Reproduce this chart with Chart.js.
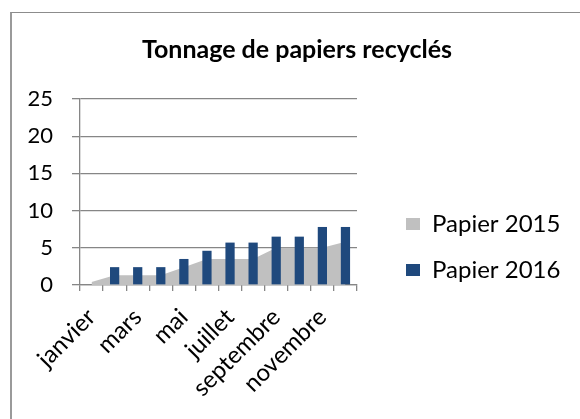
<!DOCTYPE html>
<html>
<head>
<meta charset="utf-8">
<script src="https://cdn.jsdelivr.net/npm/chart.js@4.4.1/dist/chart.umd.min.js"></script>
<style>
    html, body { margin: 0; padding: 0; background: #fff; overflow: hidden; }
    #frame {
        position: absolute; left: 10px; top: 12px; width: 620px; height: 460px;
        border-top: 1px solid #8c8c8c; border-left: 2px solid #9a9a9a;
    }
    #wrap { position: absolute; left: 0; top: 0; width: 580px; height: 419px; }
</style>
</head>
<body>
<div id="frame"></div>
<div id="wrap"><canvas id="myChart" width="580" height="419"></canvas></div>
<script>
// chart data
const months = ['janvier', 'février', 'mars', 'avril', 'mai', 'juin',
    'juillet', 'août', 'septembre', 'octobre', 'novembre', 'décembre'];
const papier2015 = [0.4, 1.3, 1.3, 1.3, 2.4, 3.5, 3.5, 3.5, 5, 5, 5, 5.8];
const papier2016 = [0, 2.4, 2.4, 2.4, 3.5, 4.6, 5.7, 5.7, 6.5, 6.5, 7.8, 7.8];
const yTicks = [0, 5, 10, 15, 20, 25];

const FONT = 'Lato, "Open Sans", sans-serif';
const GRID = '#868686';

// layout of the excel-like frame
const LEGEND_W = 223;     // room kept on the right of the plot
const LEGEND_LEFT = 384;  // legend boxes start at LEGEND_LEFT + padding
const LEGEND_TOP = 190;

// legend sits a bit away from the plot, like in the spreadsheet
const legendPlace = {
    id: 'legendPlace',
    beforeLayout(chart) {
        const lg = chart.legend;
        if (lg && !lg._fixed) {
            const fit = lg.fit;
            lg.fit = function () {
                fit.call(this);
                this.width = LEGEND_W;
            };
            lg._fixed = true;
        }
    },
    afterLayout(chart) {
        const lg = chart.legend;
        lg.left = LEGEND_LEFT;
        lg.right = LEGEND_LEFT + LEGEND_W;
        lg.top = LEGEND_TOP;
        lg.bottom = LEGEND_TOP + 120;
    }
};

const ctx = document.getElementById('myChart').getContext('2d');

new Chart(ctx, {
    type: 'bar',
    data: {
        labels: months,
        datasets: [{
            type: 'line',
            label: 'Papier 2015',
            data: papier2015,
            backgroundColor: '#c0c0c0',
            borderColor: '#c0c0c0',
            borderWidth: 0,
            pointRadius: 0,
            tension: 0,
            fill: 'origin',
            order: 2
        }, {
            label: 'Papier 2016',
            data: papier2016,
            backgroundColor: '#1f497d',
            borderWidth: 0,
            categoryPercentage: 0.8,
            barPercentage: 0.5,
            order: 1
        }]
    },
    plugins: [legendPlace],
    options: {
        responsive: false,
        animation: false,
        layout: { padding: { left: 14, right: 0, top: 0, bottom: 0 } },
        plugins: {
            tooltip: { enabled: false },
            title: {
                display: true,
                text: 'Tonnage de papiers recyclés',
                color: '#000',
                font: { family: FONT, size: 25, weight: 'bold' },
                padding: { top: 35, bottom: 34 }
            },
            legend: {
                position: 'right',
                align: 'start',
                labels: {
                    boxWidth: 14,
                    boxHeight: 12,
                    padding: 22,
                    color: '#000',
                    font: { family: FONT, size: 24 },
                    sort: (a, b) => a.datasetIndex - b.datasetIndex
                }
            }
        },
        scales: {
            x: {
                offset: true,
                afterFit: axis => {
                    axis.paddingLeft = 0;
                    axis.paddingRight = 0;
                    axis.height = 134;
                },
                grid: {
                    offset: true,
                    drawOnChartArea: false,
                    drawTicks: true,
                    tickLength: 6,
                    color: GRID,
                    lineWidth: 1.3
                },
                border: { display: true, color: GRID, width: 1.3 },
                ticks: {
                    autoSkip: false,
                    maxRotation: 45,
                    minRotation: 45,
                    padding: 12,
                    color: '#000',
                    font: { family: FONT, size: 24 },
                    callback: (value, i) => (i % 2 === 0 ? months[i] : '')
                }
            },
            y: {
                min: yTicks[0],
                max: yTicks[yTicks.length - 1],
                afterBuildTicks: axis => { axis.ticks = yTicks.map(v => ({ value: v })); },
                afterFit: axis => { axis.width = 66; },
                grid: { color: GRID, lineWidth: 1.3, tickLength: 8 },
                border: { color: GRID, width: 1.3 },
                ticks: {
                    padding: 19,
                    color: '#000',
                    font: { family: FONT, size: 22 }
                }
            }
        }
    }
});
</script>
</body>
</html>
